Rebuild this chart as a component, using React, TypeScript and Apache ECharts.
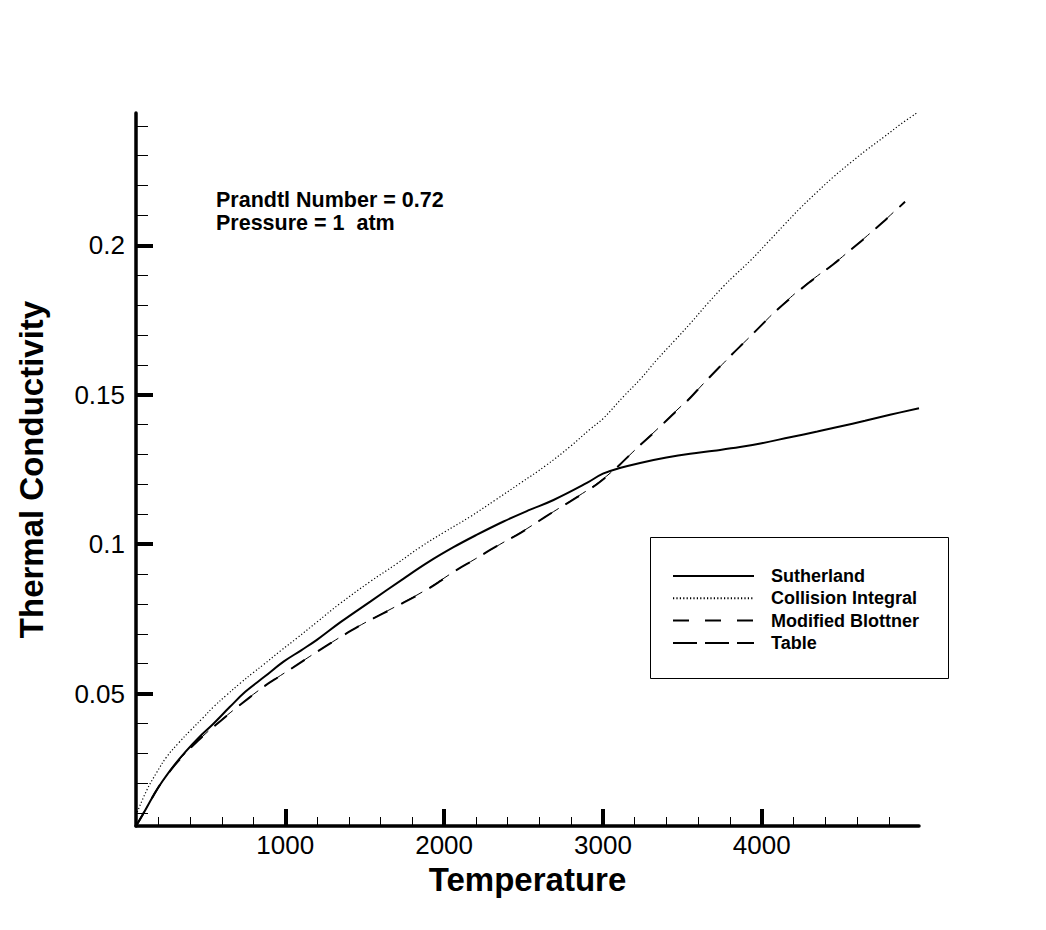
import React, { useEffect, useRef } from "react";
import * as echarts from "echarts";

const FONT = "'Liberation Sans', Arial, Helvetica, sans-serif";

const xMajorTicks = [1000, 2000, 3000, 4000];
const xMinorTicks = [200, 400, 600, 800, 1200, 1400, 1600, 1800, 2200, 2400, 2600, 2800, 3200, 3400, 3600, 3800, 4200, 4400, 4600, 4800];
const yMajorTicks = [0.05, 0.1, 0.15, 0.2];
const yMinorTicks = [0.01, 0.02, 0.03, 0.04, 0.06, 0.07, 0.08, 0.09, 0.11, 0.12, 0.13, 0.14, 0.16, 0.17, 0.18, 0.19, 0.21, 0.22, 0.23, 0.24];

const seriesNames = ["Sutherland", "Collision Integral", "Modified Blottner", "Table"];

const sutherlandT = [60, 100, 171, 224, 300, 371, 450, 549, 650, 748, 870, 989, 1100, 1199, 1350, 1535, 1745, 1900, 2059, 2200, 2374, 2530, 2689, 2899, 3000, 3100, 3234, 3400, 3549, 3700, 3863, 4000, 4178, 4350, 4492, 4650, 4807, 4990];
const sutherlandK = [0.0057, 0.0093, 0.016, 0.0205, 0.026, 0.0305, 0.035, 0.04, 0.0455, 0.0506, 0.0557, 0.0607, 0.0645, 0.068, 0.074, 0.0808, 0.0885, 0.094, 0.099, 0.103, 0.1076, 0.1113, 0.1148, 0.1205, 0.1236, 0.1254, 0.1272, 0.129, 0.1303, 0.1313, 0.1325, 0.1338, 0.1358, 0.1377, 0.1394, 0.1413, 0.1433, 0.1455];

const collisionT = [60, 128, 190, 254, 330, 405, 480, 549, 630, 717, 800, 863, 970, 1074, 1200, 1346, 1535, 1700, 1849, 2000, 2164, 2320, 2479, 2640, 2794, 2919, 3000, 3129, 3240, 3339, 3449, 3549, 3650, 3759, 3822, 3930, 4032, 4140, 4241, 4351, 4451, 4560, 4661, 4770, 4871, 4976];
const collisionK = [0.0093, 0.0177, 0.0236, 0.0289, 0.0336, 0.0378, 0.0418, 0.0456, 0.0495, 0.0535, 0.0571, 0.0597, 0.0643, 0.0686, 0.074, 0.0802, 0.0875, 0.0934, 0.099, 0.104, 0.1092, 0.1147, 0.1204, 0.1263, 0.1327, 0.1385, 0.142, 0.1494, 0.1555, 0.1617, 0.168, 0.1738, 0.18, 0.1863, 0.1896, 0.195, 0.2007, 0.2068, 0.2124, 0.218, 0.2229, 0.2277, 0.232, 0.2363, 0.2404, 0.2443];

const blottnerT = [60, 100, 171, 224, 300, 371, 450, 528, 600, 675, 770, 863, 970, 1074, 1180, 1283, 1390, 1493, 1619, 1750, 1870, 1980, 2080, 2190, 2290, 2380, 2479, 2580, 2689, 2790, 2879, 2960, 3045, 3129, 3220, 3318, 3420, 3528, 3620, 3717, 3810, 3906, 4000, 4094, 4200, 4304, 4451, 4560, 4661, 4780, 4902];
const blottnerK = [0.0057, 0.0093, 0.016, 0.0205, 0.0258, 0.03, 0.0342, 0.038, 0.0412, 0.0445, 0.0485, 0.0523, 0.056, 0.0596, 0.0633, 0.0668, 0.0703, 0.0735, 0.0769, 0.0806, 0.0841, 0.0878, 0.0914, 0.0948, 0.0981, 0.1008, 0.1037, 0.1072, 0.1109, 0.1142, 0.1171, 0.12, 0.1236, 0.1278, 0.1325, 0.1372, 0.1424, 0.1478, 0.153, 0.1584, 0.1634, 0.1684, 0.1734, 0.1783, 0.1832, 0.1878, 0.1937, 0.1985, 0.203, 0.2086, 0.2146];

const tableT = [60, 120, 200, 300, 400, 500, 600, 700, 800, 900, 1000, 1150, 1300, 1450, 1600, 1750, 1900, 2050, 2200, 2350, 2500, 2650, 2800, 2950, 3050, 3150, 3250, 3350, 3450, 3550, 3650, 3750, 3850, 3950, 4050, 4150, 4250, 4350, 4450, 4550, 4650, 4750, 4850, 4902];
const tableK = [0.0057, 0.0112, 0.0185, 0.0258, 0.0316, 0.0367, 0.0413, 0.0456, 0.0498, 0.0536, 0.0571, 0.0623, 0.0674, 0.0722, 0.0765, 0.0807, 0.0852, 0.0904, 0.0952, 0.0999, 0.1045, 0.1096, 0.1146, 0.1198, 0.124, 0.1289, 0.134, 0.1389, 0.1441, 0.1491, 0.1547, 0.1601, 0.1655, 0.1707, 0.1761, 0.1811, 0.1857, 0.1898, 0.1937, 0.1981, 0.2026, 0.2072, 0.2121, 0.2146];

const annotationLines = ["Prandtl Number = 0.72", "Pressure = 1  atm"];

const X_MIN = 60;
const X_MAX = 4990;
const Y_MIN = 0.0057;
const Y_MAX = 0.2443;

function pairs(xs: number[], ys: number[]) {
  return xs.map((x, i) => [x, ys[i]]);
}

export default function App() {
  const ref = useRef<HTMLDivElement>(null);

  useEffect(() => {
    if (!ref.current) return;
    const chart = echarts.init(ref.current, undefined, { renderer: "svg" });

    const baseX = { type: "value", min: X_MIN, max: X_MAX, position: "bottom", splitLine: { show: false } };
    const baseY = { type: "value", min: Y_MIN, max: Y_MAX, position: "left", splitLine: { show: false } };

    const lineSeries = (name: string, t: number[], k: number[], lineStyle: any) => ({
      name,
      type: "line",
      data: pairs(t, k),
      symbol: "none",
      smooth: 0.4,
      lineStyle: { color: "#000", ...lineStyle },
      itemStyle: { color: "#000" },
    });

    const option: any = {
      animation: false,
      backgroundColor: "#fff",
      grid: { left: 136, top: 113, width: 783, height: 713, containLabel: false },
      xAxis: [
        {
          ...baseX,
          axisLine: { show: true, lineStyle: { color: "#000", width: 3.5 } },
          axisTick: { show: true, inside: true, length: 17, lineStyle: { color: "#000", width: 4 }, customValues: xMajorTicks },
          axisLabel: { show: true, customValues: xMajorTicks, margin: 6, fontSize: 26, color: "#000", fontFamily: FONT, formatter: (v: number) => String(v) },
          name: "Temperature",
          nameLocation: "middle",
          nameGap: 31,
          nameTextStyle: { fontSize: 33, fontWeight: "bold", color: "#000", fontFamily: FONT },
        },
        {
          ...baseX,
          axisLine: { show: false },
          axisTick: { show: true, inside: true, length: 9, lineStyle: { color: "#000", width: 1 }, customValues: xMinorTicks },
          axisLabel: { show: false },
        },
      ],
      yAxis: [
        {
          ...baseY,
          axisLine: { show: true, lineStyle: { color: "#000", width: 3.5 } },
          axisTick: { show: true, inside: true, length: 17, lineStyle: { color: "#000", width: 4 }, customValues: yMajorTicks },
          axisLabel: { show: true, customValues: yMajorTicks, margin: 11, fontSize: 26, color: "#000", fontFamily: FONT, formatter: (v: number) => String(v) },
          name: "Thermal Conductivity",
          nameLocation: "middle",
          nameGap: 88,
          nameTextStyle: { fontSize: 33, fontWeight: "bold", color: "#000", fontFamily: FONT },
        },
        {
          ...baseY,
          axisLine: { show: false },
          axisTick: { show: true, inside: true, length: 12, lineStyle: { color: "#000", width: 1 }, customValues: yMinorTicks },
          axisLabel: { show: false },
        },
      ],
      legend: {
        orient: "vertical",
        left: 672,
        top: 567,
        padding: 0,
        itemWidth: 81,
        itemHeight: 14,
        itemGap: 4.3,
        selectedMode: false,
        data: seriesNames,
        itemStyle: { opacity: 0 },
        textStyle: { fontSize: 18, lineHeight: 18, fontWeight: "bold", color: "#000", fontFamily: FONT, padding: [0, 0, 0, 12] },
      },
      graphic: [
        {
          type: "rect",
          left: 648,
          top: 535,
          shape: { width: 298, height: 141 },
          style: { fill: "none", stroke: "#000", lineWidth: 1 },
          z: 1,
        },
        {
          type: "text",
          left: 216,
          top: 189,
          style: { text: annotationLines[0], fontSize: 21.5, fontWeight: "bold", fill: "#000", fontFamily: FONT },
        },
        {
          type: "text",
          left: 216,
          top: 211.5,
          style: { text: annotationLines[1], fontSize: 21.5, fontWeight: "bold", fill: "#000", fontFamily: FONT },
        },
      ],
      series: [
        lineSeries(seriesNames[0], sutherlandT, sutherlandK, { width: 2, type: "solid" }),
        lineSeries(seriesNames[1], collisionT, collisionK, { width: 1.2, type: [1.2, 2.2] }),
        lineSeries(seriesNames[2], blottnerT, blottnerK, { width: 2, type: [16, 16] }),
        lineSeries(seriesNames[3], tableT, tableK, { width: 1, type: [24, 8] }),
      ],
    };

    chart.setOption(option);
    return () => chart.dispose();
  }, []);

  return (
    <div
      ref={ref}
      style={{ position: "absolute", left: 0, top: 0, width: 1046, height: 930, background: "#fff" }}
    />
  );
}
